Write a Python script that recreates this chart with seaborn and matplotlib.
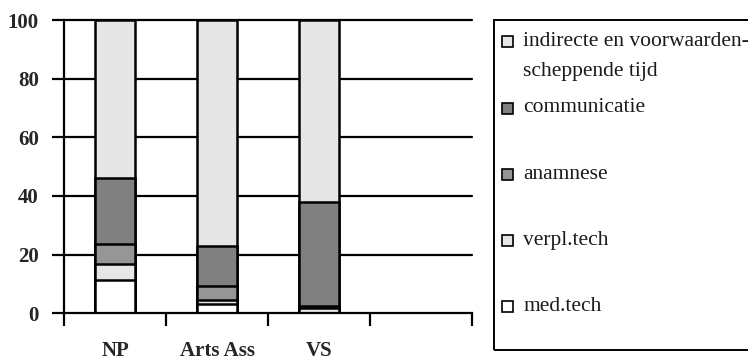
import matplotlib
matplotlib.use("Agg")
import matplotlib.pyplot as plt
from matplotlib.patches import Rectangle
import numpy as np
import pandas as pd
import seaborn as sns

# Groups and time shares (%) per activity, stacked bottom to top
groups = ["NP", "Arts Ass", "VS"]
med_tech = [11.5, 3.2, 0.2]
verpl_tech = [5.2, 1.2, 1.5]
anamnese = [6.8, 4.9, 0.8]
communicatie = [22.5, 13.7, 35.5]
indirecte = [54.0, 77.0, 62.0]

series_names = ["med.tech", "verpl.tech", "anamnese", "communicatie",
                "indirecte en voorwaarden-\nscheppende tijd"]
series_values = [med_tech, verpl_tech, anamnese, communicatie, indirecte]
series_colors = ["#ffffff", "#e6e6e6", "#969696", "#808080", "#e6e6e6"]

yticks = [0, 20, 40, 60, 80, 100]

sns.set_style("white")
plt.rcParams["font.family"] = ["Liberation Serif", "DejaVu Serif"]

fig = plt.figure(figsize=(7.48, 3.62), dpi=100)
ax = fig.add_axes([64 / 748, 1 - 313.3 / 362, (472 - 64) / 748, (313.3 - 20) / 362])

# cumulative tops; draw tallest first so each lower layer sits over it
cum = np.cumsum(np.array(series_values), axis=0)
for i in range(len(series_names) - 1, -1, -1):
    df = pd.DataFrame({"group": groups, "top": cum[i]})
    sns.barplot(data=df, x="group", y="top", order=groups, ax=ax,
                color=series_colors[i], saturation=1, width=0.39,
                edgecolor="black", linewidth=1.8, zorder=3)

ax.set_xlim(-0.5, 3.5)
ax.set_ylim(0, 100)
ax.set_xlabel("")
ax.set_ylabel("")

# horizontal gridlines
for y in yticks[1:]:
    ax.axhline(y, color="black", lw=1.6, zorder=1, clip_on=False)

ax.set_yticks(yticks)
ax.set_yticklabels([str(t) for t in yticks], fontsize=15, fontweight="bold")
ax.tick_params(axis="y", length=9, width=1.6, pad=9, color="black", left=True)

ax.set_xticks([-0.5, 0.5, 1.5, 2.5, 3.5])
ax.set_xticklabels([])
ax.set_xticks([0, 1, 2], minor=True)
ax.set_xticklabels(groups, minor=True, fontsize=15, fontweight="bold")
ax.tick_params(axis="x", which="major", length=9, width=1.6, direction="out",
               bottom=True, color="black")
ax.tick_params(axis="x", which="minor", length=0, pad=20)

for side in ["top", "right"]:
    ax.spines[side].set_visible(False)
for side in ["left", "bottom"]:
    ax.spines[side].set_color("black")
    ax.spines[side].set_linewidth(1.6)
    ax.spines[side].set_zorder(4)

# legend frame and entries
W, H = 748, 362
fig.patches.append(Rectangle((494 / W, 1 - 350 / H), 300 / W, 330 / H,
                             transform=fig.transFigure, fill=False,
                             edgecolor="black", lw=1.4))
legend_rows = [
    (4, [41.7, 71.7]),
    (3, [108]),
    (2, [175]),
    (1, [240]),
    (0, [306.7]),
]
for idx, ys in legend_rows:
    sy = ys[0]
    fig.patches.append(Rectangle((502 / W, 1 - (sy + 5.5) / H), 11 / W, 11 / H,
                                 transform=fig.transFigure,
                                 facecolor=series_colors[idx],
                                 edgecolor="black", lw=1.2))
    lines = series_names[idx].split("\n")
    for line, ly in zip(lines, ys):
        fig.text(523 / W, 1 - ly / H, line, fontsize=15.5, va="center",
                 ha="left", color="#1a1a1a")

fig.savefig("out.png", dpi=100)
